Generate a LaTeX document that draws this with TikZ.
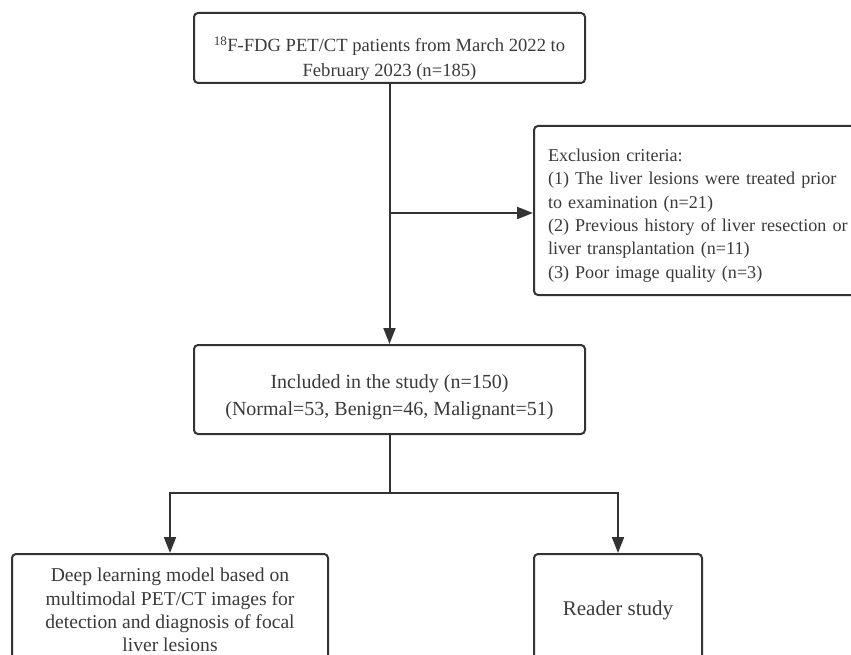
\documentclass[tikz,border=0pt]{standalone}
\usepackage{fontspec}
\setmainfont{Liberation Serif}
\usepackage{tikz}
\usetikzlibrary{arrows.meta,positioning}
\tikzset{>=Stealth}
\definecolor{linegray}{HTML}{333333}
\definecolor{textgray}{HTML}{3A3A3A}
\newcommand{\topgap}[1]{\rule{0pt}{#1}}
\tikzset{
    box/.style={draw=linegray, line width=2pt, rounded corners=4pt,
        inner sep=0pt, text=textgray, align=center},
    flow/.style={->, draw=linegray, line width=2pt,
        >={Triangle[length=16pt,width=12pt]}}
}

\begin{document}
\begin{tikzpicture}[x=1pt,y=-1pt]
    \useasboundingbox (0,0) rectangle (851,655);
    \clip (0,0) rectangle (851,655);
    \node[box,minimum width=391pt,minimum height=70pt,font=\fontsize{18.6}{25}\selectfont] at (389.5,48) (patients)
        {\topgap{36pt}\textsuperscript{18}F-FDG PET/CT patients from March 2022 to\\February 2023 (n=185)};
    \node[box,anchor=west,align=left,text width=312pt,inner xsep=14pt,minimum height=169pt,font=\fontsize{18.1}{23.3}\selectfont] at (533,210.5) (exclusion)
        {\topgap{22.5pt}Exclusion criteria:\\(1) The liver lesions were treated prior\\to examination (n=21)\\(2) Previous history of liver resection or\\liver transplantation (n=11)\\(3) Poor image quality (n=3)};
    \node[box,minimum width=391pt,minimum height=89pt,font=\fontsize{20}{27}\selectfont] at (389.5,389.5) (included)
        {\topgap{29pt}Included in the study (n=150)\\(Normal=53, Benign=46, Malignant=51)};
    \node[box,minimum width=316pt,minimum height=112pt,font=\fontsize{19.6}{23.3}\selectfont] at (170,610) (model)
        {Deep learning model based on\\multimodal PET/CT images for\\detection and diagnosis of focal\\liver lesions};
    \node[box,minimum width=168pt,minimum height=112pt,font=\fontsize{21}{25}\selectfont] at (618,610) (reader)
        {Reader study};
    % branch points on the trunk
    \coordinate (split1) at (patients.south |- 0,213);
    \coordinate (split2) at (included.south |- 0,493);
    \draw[flow] (patients) -- (included);
    \draw[flow] (split1) -- (exclusion.west |- split1);
    \draw[linegray,line width=2pt] (included) -- (split2);
    \draw[flow] (split2) -| (model.north);
    \draw[flow] (split2) -| (reader.north);
\end{tikzpicture}
\end{document}
